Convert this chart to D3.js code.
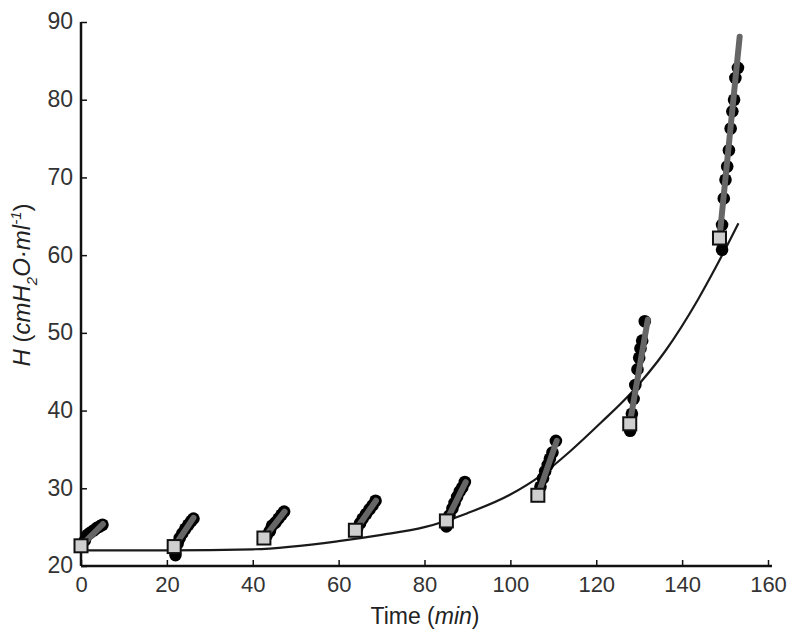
<!DOCTYPE html>
<html><head><meta charset="utf-8">
<script src="https://cdn.jsdelivr.net/npm/d3@7"></script>
<style>body{margin:0;background:#fff}svg{display:block}text{font-family:"Liberation Sans",Arial,sans-serif}</style>
</head><body>
<script>
// fitted curve
const fitT = [0, 20, 40, 60, 70, 80, 90, 100, 107, 114, 121, 128, 136, 143.6, 147.8, 153.1];
const fitH = [22.0, 22.0, 22.15, 23.2, 24.0, 25.0, 26.8, 29.2, 31.6, 34.8, 38.4, 42.2, 47.6, 54.2, 58.4, 64.1];
// square markers (start of each occlusion)
const sqT = [0.0, 21.7, 42.6, 63.9, 85.1, 106.4, 127.8, 148.7];
const sqH = [22.6, 22.5, 23.6, 24.6, 25.8, 29.1, 38.3, 62.2];
// end of gray regression line for each cluster
const endT = [5.1, 26.2, 47.4, 68.7, 89.6, 110.8, 132.0, 153.4];
const endH = [25.4, 26.2, 27.0, 28.4, 30.8, 36.1, 51.7, 88.1];
// black dots per cluster
const dotT = [
  [0.9, 1.5, 2.2, 3.0, 3.7, 4.4, 5.0],
  [22.0, 22.5, 23.0, 23.6, 24.3, 25.0, 25.7, 26.2],
  [43.2, 44.0, 44.5, 45.3, 46.0, 46.7, 47.3],
  [64.3, 65.0, 65.6, 66.4, 67.2, 67.9, 68.6],
  [85.1, 85.8, 86.5, 87.0, 87.6, 88.2, 88.8, 89.4],
  [107.0, 107.6, 108.1, 108.7, 109.2, 109.8, 110.6],
  [127.9, 128.3, 128.7, 129.1, 129.6, 130.0, 130.3, 130.7, 131.3],
  [149.3, 149.3, 149.7, 150.1, 150.5, 150.9, 151.3, 151.7, 152.1, 152.4, 153.0]
];
const dotH = [
  [23.3, 24.0, 24.3, 24.6, 24.9, 25.1, 25.3],
  [21.4, 22.9, 23.6, 24.2, 24.8, 25.3, 25.8, 26.1],
  [23.9, 24.5, 25.2, 25.6, 26.1, 26.6, 27.0],
  [24.8, 25.5, 26.1, 26.7, 27.3, 27.8, 28.4],
  [25.1, 26.5, 27.4, 28.1, 28.9, 29.6, 30.1, 30.8],
  [30.2, 31.3, 32.2, 33.0, 33.8, 34.6, 36.1],
  [37.4, 39.6, 41.5, 43.3, 45.3, 46.8, 48.0, 49.0, 51.5],
  [60.7, 63.9, 67.3, 69.7, 71.4, 73.5, 76.3, 78.5, 80.0, 82.8, 84.1]
];
const xTicks = [0, 20, 40, 60, 80, 100, 120, 140, 160];
const yTicks = [20, 30, 40, 50, 60, 70, 80, 90];

const W = 800, H = 641;
const svg = d3.select("body").append("svg").attr("width", W).attr("height", H);
const x = d3.scaleLinear().domain([0, 160]).range([81, 768]);
const y = d3.scaleLinear().domain([20, 90]).range([566, 22]);

// axes
const gx = svg.append("g").attr("transform", `translate(0,${y(20)})`)
  .call(d3.axisBottom(x).tickValues(xTicks).tickSize(-6).tickPadding(10).tickFormat(d3.format("d")));
const gy = svg.append("g").attr("transform", `translate(${x(0)},0)`)
  .call(d3.axisLeft(y).tickValues(yTicks).tickSize(-6).tickPadding(8).tickFormat(d3.format("d")));
[gx, gy].forEach(g => {
  g.select(".domain").attr("stroke", "#111").attr("stroke-width", 2.5);
  g.selectAll(".tick line").attr("stroke", "#111").attr("stroke-width", 1.5);
  g.selectAll(".tick text").attr("fill", "#333");
});
gx.selectAll(".tick text").attr("font-size", 22).attr("dy", "0.71em");
gy.selectAll(".tick text").attr("font-size", 23).attr("dy", "0.3em");
gx.select(".domain").attr("d", `M${x(0)},0H${x(160)+4}`);
gy.select(".domain").attr("d", `M0,${y(20)}V${y(90)}`);

// fit curve
const fitData = fitT.map((t, i) => [t, fitH[i]]);
svg.append("path").datum(fitData)
  .attr("fill", "none").attr("stroke", "#1a1a1a").attr("stroke-width", 2.2)
  .attr("d", d3.line().x(d => x(d[0])).y(d => y(d[1])).curve(d3.curveMonotoneX));

// clusters
for (let c = 0; c < sqT.length; c++) {
  const g = svg.append("g");
  g.selectAll("circle").data(dotT[c].map((t, i) => [t, dotH[c][i]])).join("circle")
    .attr("cx", d => x(d[0])).attr("cy", d => y(d[1])).attr("r", 6.3).attr("fill", "#000");
  g.append("line")
    .attr("x1", x(sqT[c])).attr("y1", y(sqH[c])).attr("x2", x(endT[c])).attr("y2", y(endH[c]))
    .attr("stroke", "#666").attr("stroke-width", 6).attr("stroke-linecap", "round");
  g.append("rect")
    .attr("x", x(sqT[c]) - 6.5).attr("y", y(sqH[c]) - 6.5).attr("width", 13).attr("height", 13)
    .attr("fill", "#cfcfcf").attr("stroke", "#111").attr("stroke-width", 2);
}

// labels
svg.append("text").attr("x", 425).attr("y", 624).attr("text-anchor", "middle")
  .attr("font-size", 23).attr("fill", "#222")
  .html('Time (<tspan font-style="italic">min</tspan>)');
const yl = svg.append("text").attr("transform", "translate(30,285) rotate(-90)")
  .attr("text-anchor", "middle").attr("font-size", 24).attr("fill", "#222");
yl.append("tspan").attr("font-style", "italic").text("H");
yl.append("tspan").text(" (");
yl.append("tspan").attr("font-style", "italic").text("cmH");
yl.append("tspan").attr("font-style", "italic").attr("font-size", 15).attr("dy", 7).text("2");
yl.append("tspan").attr("font-style", "italic").attr("dy", -7).text("O·ml");
yl.append("tspan").attr("font-style", "italic").attr("font-size", 15).attr("dy", -9).text("-1");
yl.append("tspan").attr("dy", 9).text(")");
</script>
</body></html>
